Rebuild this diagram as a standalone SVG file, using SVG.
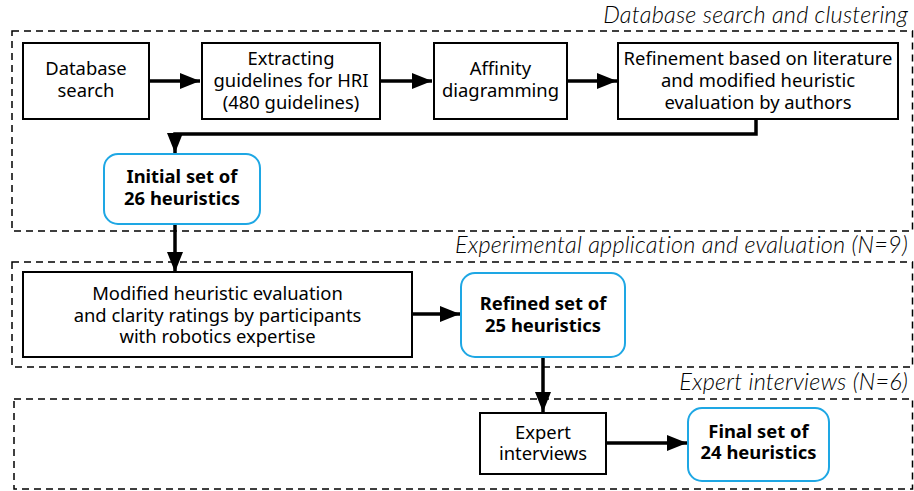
<svg xmlns="http://www.w3.org/2000/svg" width="914" height="491" viewBox="0 0 914 491">
<style>
.grp{fill:none;stroke:#000;stroke-width:1.5;stroke-dasharray:7,5}
.ttl{font-family:Lato,"Liberation Sans",sans-serif;font-style:italic;font-weight:300;font-size:23.5px;letter-spacing:0.2px;fill:#000;text-anchor:end}
.box{fill:#fff;stroke:#000;stroke-width:2}
.res{fill:#fff;stroke:#1ea7e4;stroke-width:2}
.t{font-family:"Noto Sans","Open Sans",sans-serif;font-size:18.4px;fill:#000;text-anchor:middle}
.b{font-weight:bold}
.c{fill:none;stroke:#000;stroke-width:3.5}
</style>
<defs>
<marker id="ah" markerUnits="userSpaceOnUse" markerWidth="22" markerHeight="16" refX="20" refY="8" orient="auto">
<path d="M0,0 L20,8 L0,16 Z" fill="#000"/>
</marker>
</defs>
<g id="groups">
<rect class="grp" x="12" y="31" width="900.5" height="200"/>
<text class="ttl" x="908" y="23">Database search and clustering</text>
<rect class="grp" x="12" y="262" width="900.5" height="105"/>
<text class="ttl" x="908" y="253">Experimental application and evaluation (N=9)</text>
<rect class="grp" x="14" y="399" width="898.5" height="90"/>
<text class="ttl" x="908" y="390">Expert interviews (N=6)</text>
</g>
<g id="connectors">
<line class="c" x1="149" y1="81" x2="200" y2="81" marker-end="url(#ah)"/>
<line class="c" x1="380" y1="81" x2="432" y2="81" marker-end="url(#ah)"/>
<line class="c" x1="567" y1="81" x2="617" y2="81" marker-end="url(#ah)"/>
<polyline class="c" points="756,119 756,134 175,134 175,153" marker-end="url(#ah)"/>
<line class="c" x1="175" y1="224" x2="175" y2="272" marker-end="url(#ah)"/>
<line class="c" x1="412" y1="314" x2="460" y2="314" marker-end="url(#ah)"/>
<line class="c" x1="543" y1="357" x2="543" y2="412" marker-end="url(#ah)"/>
<line class="c" x1="606" y1="443" x2="687" y2="443" marker-end="url(#ah)"/>
</g>
<g id="n1">
<rect class="box" x="23" y="43" width="126" height="76"/>
<text class="t" x="86" y="75">Database</text>
<text class="t" x="86" y="97">search</text>
</g>
<g id="n2">
<rect class="box" x="202" y="43" width="178" height="76"/>
<text class="t" x="291" y="65">Extracting</text>
<text class="t" x="291" y="87">guidelines for HRI</text>
<text class="t" x="291" y="109">(480 guidelines)</text>
</g>
<g id="n3">
<rect class="box" x="434" y="43" width="133" height="76"/>
<text class="t" x="500.5" y="75">Affinity</text>
<text class="t" x="500.5" y="97">diagramming</text>
</g>
<g id="n4">
<rect class="box" x="618" y="43" width="280" height="76"/>
<text class="t" x="758" y="65">Refinement based on literature</text>
<text class="t" x="758" y="87">and modified heuristic</text>
<text class="t" x="758" y="109">evaluation by authors</text>
</g>
<g id="n5">
<rect class="res" x="104" y="154" width="156" height="70" rx="14"/>
<text class="t b" x="182" y="183">Initial set of</text>
<text class="t b" x="182" y="205">26 heuristics</text>
</g>
<g id="n6">
<rect class="box" x="23" y="272" width="389" height="85"/>
<text class="t" x="217.5" y="300">Modified heuristic evaluation</text>
<text class="t" x="217.5" y="322">and clarity ratings by participants</text>
<text class="t" x="217.5" y="343">with robotics expertise</text>
</g>
<g id="n7">
<rect class="res" x="461" y="273" width="164" height="84" rx="14"/>
<text class="t b" x="543" y="310">Refined set of</text>
<text class="t b" x="543" y="332">25 heuristics</text>
</g>
<g id="n8">
<rect class="box" x="480" y="413" width="126" height="61"/>
<text class="t" x="543" y="439">Expert</text>
<text class="t" x="543" y="460">interviews</text>
</g>
<g id="n9">
<rect class="res" x="688" y="408" width="141" height="73" rx="14"/>
<text class="t b" x="758.5" y="438">Final set of</text>
<text class="t b" x="758.5" y="459">24 heuristics</text>
</g>
</svg>
